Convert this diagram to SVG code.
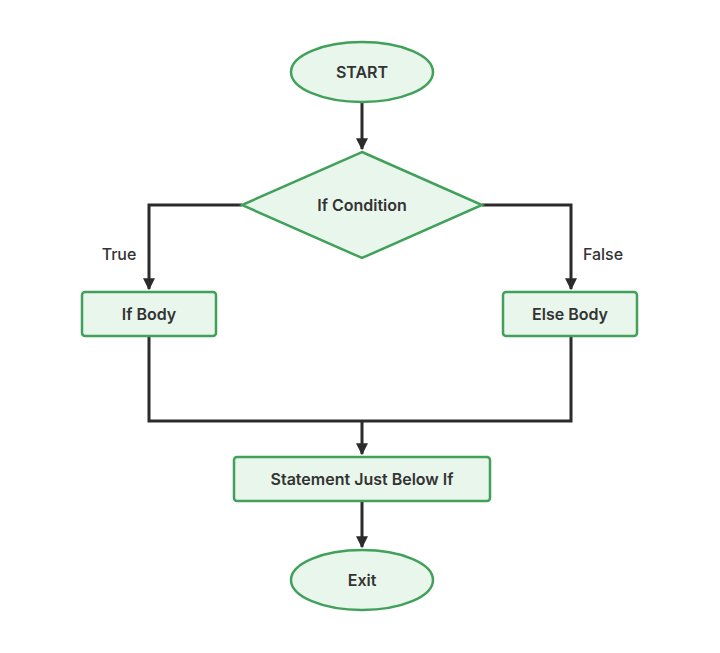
<svg xmlns="http://www.w3.org/2000/svg" width="720" height="653" viewBox="0 0 720 653">
<style>
.n{fill:#e9f6ec;stroke:#41a05a;stroke-width:2.5}
.t{font-family:Inter,"Liberation Sans",sans-serif;font-weight:600;font-size:16px;fill:#333;text-anchor:middle;dominant-baseline:central}
.l{font-family:Inter,"Liberation Sans",sans-serif;font-weight:500;font-size:16px;fill:#333;text-anchor:middle}
.c{fill:none;stroke:#2b2b2b;stroke-width:3}
</style>
<defs><marker id="a" viewBox="0 0 10 10" refX="9" refY="5" markerWidth="4" markerHeight="4" orient="auto"><path d="M0,0L10,5L0,10z" fill="#2b2b2b"/></marker></defs>
<rect width="720" height="653" fill="#fff"/>
<g id="connectors">
<path class="c" d="M362,102V149" marker-end="url(#a)"/>
<path class="c" d="M242,205H149V289" marker-end="url(#a)"/>
<path class="c" d="M482,205H571V289" marker-end="url(#a)"/>
<path class="c" d="M149,336V421H571V336"/>
<path class="c" d="M362,421V454" marker-end="url(#a)"/>
<path class="c" d="M362,501V547" marker-end="url(#a)"/>
<text class="l" x="119" y="260">True</text>
<text class="l" x="603" y="260">False</text>
</g>
<g id="start"><ellipse class="n" cx="362" cy="72" rx="71" ry="30"/><text class="t" x="362" y="72">START</text></g>
<g id="cond"><path class="n" d="M362,152L482,205L362,258L242,205z"/><text class="t" x="362" y="205">If Condition</text></g>
<g id="ifbody"><rect class="n" x="82" y="292" width="134" height="44" rx="3"/><text class="t" x="149" y="314">If Body</text></g>
<g id="elsebody"><rect class="n" x="503" y="292" width="134" height="44" rx="3"/><text class="t" x="570" y="314">Else Body</text></g>
<g id="stmt"><rect class="n" x="234" y="457" width="256" height="44" rx="3"/><text class="t" x="362" y="479">Statement Just Below If</text></g>
<g id="exit"><ellipse class="n" cx="362" cy="580" rx="71" ry="30"/><text class="t" x="362" y="580">Exit</text></g>
</svg>
